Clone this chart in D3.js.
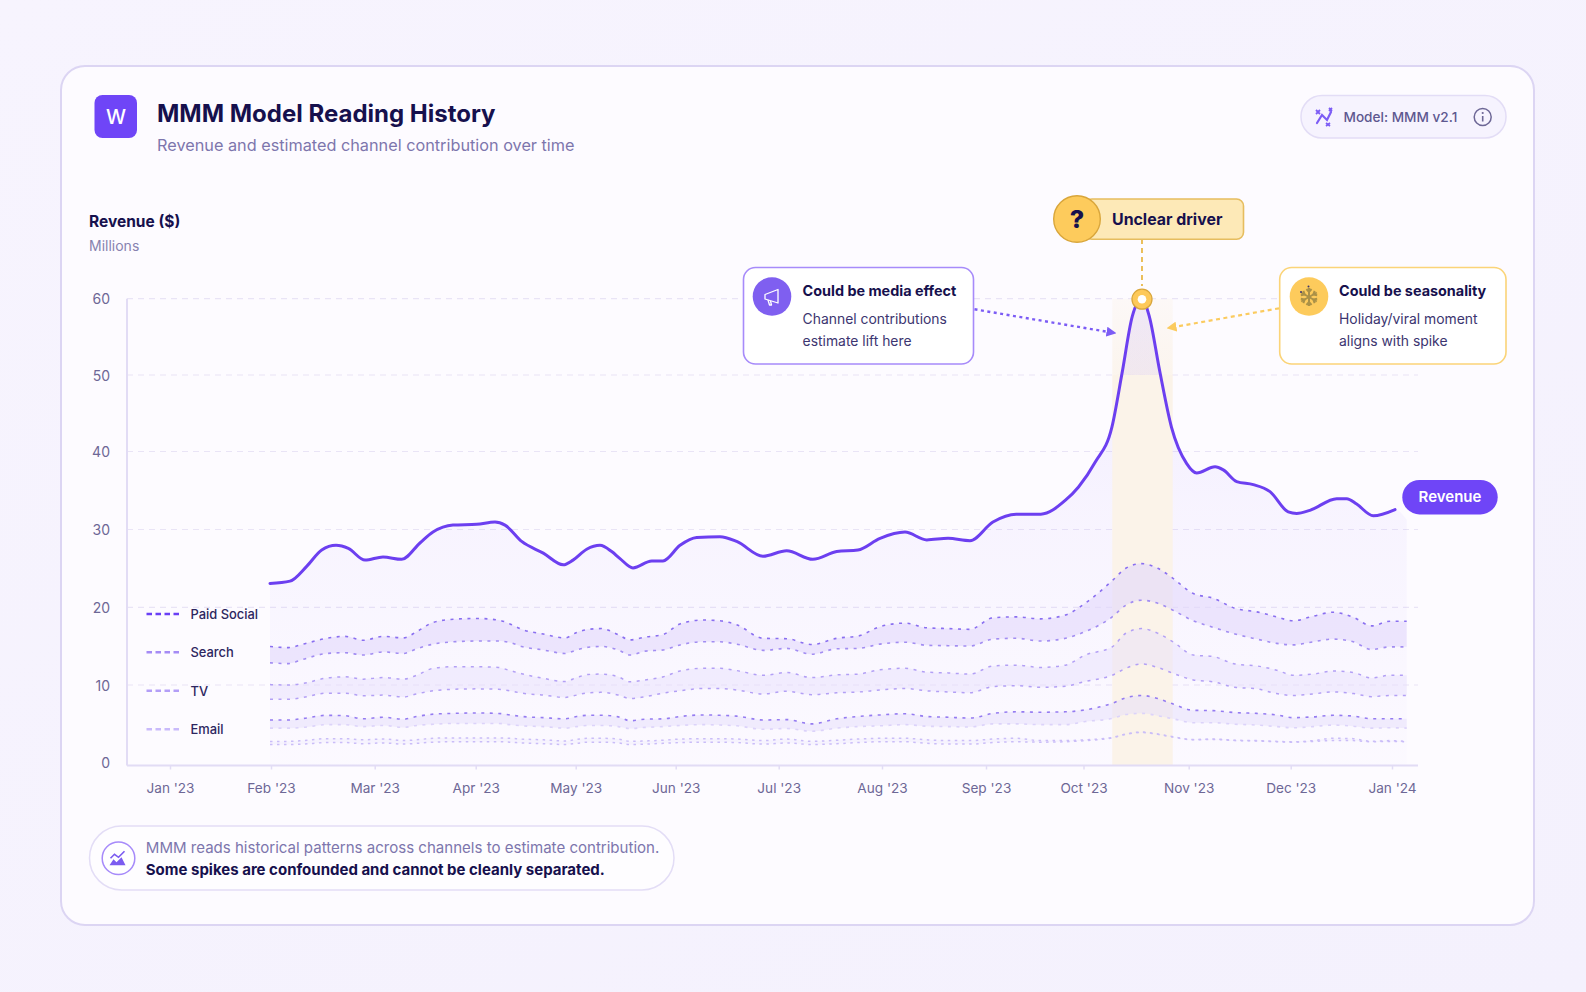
<!DOCTYPE html>
<html><head><meta charset="utf-8">
<script src="https://cdn.jsdelivr.net/npm/d3@7"></script>
<style>
html,body{margin:0;padding:0;background:#f6f3fe;overflow:hidden}
svg{display:block}
text{font-family:Inter,"Noto Sans",sans-serif}
</style></head><body>
<script>
const monthLabels=["Jan '23","Feb '23","Mar '23","Apr '23","May '23","Jun '23","Jul '23","Aug '23","Sep '23","Oct '23","Nov '23","Dec '23","Jan '24"];
const monthIndex=[0,1,2,3,4,5,6,7,8,9,10,11,12];
const yTicks=[0,10,20,30,40,50,60];
const revMonths=[0.99,1.183,1.344,1.489,1.627,1.746,1.907,2.082,2.267,2.448,2.577,2.775,3.01,3.193,3.293,3.46,3.676,3.876,3.973,4.11,4.243,4.36,4.443,4.573,4.76,4.873,5.042,5.204,5.43,5.592,5.847,6.077,6.33,6.562,6.767,6.981,7.221,7.43,7.635,7.846,8.071,8.31,8.562,8.815,8.949,9.112,9.27,9.366,9.463,9.556,9.626,9.723,9.836,9.981,10.078,10.258,10.339,10.47,10.633,10.797,10.976,11.059,11.19,11.454,11.553,11.651,11.815,12.03];
const revenue=[23.4,23.7,25.6,27.7,28.3,27.9,26.4,26.8,26.5,28.6,30,30.9,31,31.3,30.9,28.8,27.3,25.8,26.4,27.8,28.3,27.5,26.6,25.4,26.3,26.3,28.3,29.3,29.4,28.8,26.9,27.6,26.5,27.5,27.7,29.2,30,29,29.2,28.9,31.3,32.3,32.3,34.1,35.8,39,43.5,50.4,57.7,60,57.7,50.8,43.5,38.8,37.6,38.4,38,36.5,36.1,35.2,32.6,32.4,32.8,34.3,34.3,33.6,32.1,32.9];
const bandMonths=[0.99,1.167,1.311,1.537,1.713,1.889,2.085,2.283,2.416,2.58,2.778,3.01,3.226,3.343,3.46,3.676,3.893,4.01,4.126,4.26,4.426,4.543,4.693,4.876,5.042,5.268,5.43,5.592,5.85,6.077,6.32,6.562,6.771,6.981,7.221,7.43,7.638,7.846,8.074,8.31,8.562,8.815,9.016,9.273,9.402,9.552,9.706,9.851,10.045,10.241,10.454,10.667,10.863,11.026,11.223,11.42,11.618,11.799,11.98,12.145];
const paidSocialTop=[15.3,15.15,15.6,16.35,16.6,16.1,16.6,16.4,17.2,18.4,18.8,18.9,18.7,18.2,17.5,16.9,16.4,17.1,17.5,17.6,16.8,16.15,16.5,16.85,18.2,18.7,18.6,18.1,16.35,16.3,15.55,16.35,16.65,17.85,18.3,17.7,17.6,17.5,19,19.1,18.85,19.35,20.85,23.75,25.35,25.95,25.35,24.05,22.1,21.5,20.2,19.75,19.1,18.6,19.2,19.7,19.05,17.95,18.55,18.55];
const paidSocialBottom=[13.2,13.1,13.65,14.4,14.5,14.2,14.6,14.4,15,15.6,15.9,16,16,15.8,15.3,14.85,14.4,14.85,15.2,15.3,14.85,14.2,14.7,14.85,15.5,15.9,15.9,15.6,14.8,15.05,14.3,15,15.05,15.6,15.85,15.45,15.4,15.35,16.25,16.35,16,16.35,17.2,19.1,20.6,21.25,20.85,19.95,18.6,17.75,16.9,16.25,15.7,15.5,15.9,16.25,15.9,14.9,15.25,15.25];
const searchTop=[10.4,10.35,10.55,11.25,11.4,11.1,11.3,11.1,11.6,12.5,12.7,12.7,12.6,12.2,11.8,11.2,10.8,11.3,11.7,11.75,11.4,10.75,11,11.4,12.15,12.5,12.5,12.2,11.6,11.95,11.3,11.65,11.75,12.3,12.5,12,11.9,11.75,12.8,12.9,12.6,12.9,14.2,15.25,17,17.6,17,15.9,14.2,14,13.05,12.8,12.25,11.6,11.75,12.15,11.95,11.25,11.6,11.6];
const searchBottom=[8.5,8.5,8.75,9.3,9.3,8.95,9.05,8.8,9.2,9.6,9.8,9.85,9.8,9.6,9.3,9.05,8.75,9.05,9.35,9.4,9.05,8.6,8.85,9.3,9.6,9.9,9.9,9.7,9.2,9.55,9.1,9.35,9.45,9.7,9.9,9.6,9.45,9.35,10.15,10.25,10.05,10.2,10.8,11.6,12.5,13.05,12.6,11.85,11,10.75,10.05,9.85,9.25,9,9.2,9.45,9.25,8.85,9,9];
const tvTop=[5.85,5.85,6.05,6.45,6.4,6,6.2,5.95,6.3,6.6,6.7,6.75,6.7,6.5,6.3,6.15,6,6.3,6.45,6.45,6.25,5.75,5.95,6,6.3,6.5,6.45,6.35,5.85,5.9,5.35,6,6.3,6.5,6.65,6.3,6.2,6.1,6.7,6.9,6.85,6.9,7.15,8,8.7,9,8.6,7.9,7.1,7.05,6.8,6.7,6.5,6.15,6.25,6.45,6.35,6,6,6];
const tvBottom=[4.8,4.8,4.9,5.25,5.25,5,5.15,4.9,5.15,5.3,5.4,5.4,5.4,5.25,5.1,5,4.8,5,5.15,5.15,5,4.75,4.9,5,5.15,5.25,5.2,5.1,4.65,4.75,4.4,4.8,5,5.1,5.25,5.05,5,4.95,5.35,5.35,5.25,5.25,5.65,6.05,6.55,6.7,6.4,6,5.5,5.5,5.3,5.2,5,4.85,5,5.2,5.05,4.8,4.85,4.8];
const emailTop=[3.1,3.1,3.2,3.45,3.45,3.3,3.4,3.2,3.3,3.5,3.55,3.55,3.55,3.5,3.4,3.3,3.15,3.35,3.5,3.5,3.4,3.1,3.15,3.25,3.4,3.45,3.45,3.4,3.2,3.4,3.1,3.25,3.4,3.5,3.5,3.3,3.2,3.2,3.4,3.5,3.2,3.2,3.3,3.6,4.05,4.3,4.05,3.7,3.35,3.4,3.25,3.2,3.1,3.05,3.2,3.5,3.45,3.1,3.2,3.1];
const emailBottom=[2.7,2.7,2.75,2.95,2.95,2.8,2.9,2.75,2.85,3,3.05,3.05,3.05,3,2.9,2.8,2.7,2.85,3,3,2.9,2.7,2.75,2.85,2.95,3,3,2.95,2.75,2.9,2.7,2.8,2.95,3.05,3.05,2.85,2.75,2.75,2.95,3.05,3,3.05,3.2,3.55,4,4.25,4,3.65,3.3,3.35,3.2,3.15,3.05,3,3.1,3.2,3.2,3.05,3.1,3.05];
const legendNames=["Paid Social","Search","TV","Email"];
const legendColors=["#6a3ff5","#a58bf5","#b39ef7","#c9bafb"];

const W=1586,H=992;
const tickPx=[170,271,374.7,475.7,575.7,675.7,778.7,882,986,1083.5,1188.7,1290.7,1392];
const x=d3.scaleLinear().domain(monthIndex).range(tickPx);
const y=d3.scaleLinear().domain([0,60]).range([765.5,298.7]);
const yGrid=d3.scaleLinear().domain(yTicks).range([762.7,685,607.3,529.5,451.5,375,298.7]);
const curve=d3.curveMonotoneX;
const svg=d3.select("body").append("svg").attr("width",W).attr("height",H).attr("viewBox",`0 0 ${W} ${H}`);
const defs=svg.append("defs");
const pg=defs.append("linearGradient").attr("id","pageBg").attr("x1",0).attr("y1",0).attr("x2",1).attr("y2",1);
pg.append("stop").attr("offset",0).attr("stop-color","#f7f4fe");
pg.append("stop").attr("offset",1).attr("stop-color","#f4f1fd");
const ag=defs.append("linearGradient").attr("id","revFill").attr("gradientUnits","userSpaceOnUse").attr("x1",0).attr("x2",0).attr("y1",298).attr("y2",766);
ag.append("stop").attr("offset",0).attr("stop-color","#6f45f7").attr("stop-opacity",.09);
ag.append("stop").attr("offset",.45).attr("stop-color","#6f45f7").attr("stop-opacity",.04);
ag.append("stop").attr("offset",1).attr("stop-color","#6f45f7").attr("stop-opacity",.01);
const hg=defs.append("linearGradient").attr("id","hiTop").attr("x1",0).attr("x2",0).attr("y1",0).attr("y2",1);
hg.append("stop").attr("offset",0).attr("stop-color","#fbf3e9").attr("stop-opacity",.35);
hg.append("stop").attr("offset",1).attr("stop-color","#fbf3e9").attr("stop-opacity",.8);
function mk(id,c){defs.append("marker").attr("id",id).attr("viewBox","0 0 10 10").attr("refX",8).attr("refY",5).attr("markerWidth",10).attr("markerHeight",10).attr("markerUnits","userSpaceOnUse").attr("orient","auto").append("path").attr("d","M0,0L10,5L0,10Z").attr("fill",c);}
mk("arP","#7c5cf5");mk("arY","#fbcb5f");

svg.append("rect").attr("width",W).attr("height",H).attr("fill","url(#pageBg)");
svg.append("rect").attr("x",61).attr("y",66).attr("width",1473).attr("height",859).attr("rx",24)
  .attr("fill","#fdfbff").attr("stroke","#dcd5f3").attr("stroke-width",2);

// header
svg.append("rect").attr("x",94.5).attr("y",95).attr("width",42.5).attr("height",43).attr("rx",8).attr("fill","#6f45f7");
svg.append("text").attr("x",116).attr("y",124).attr("text-anchor","middle").attr("fill","#fff").attr("font-size",20).attr("font-weight",500).text("W");
svg.append("text").attr("x",157).attr("y",122).attr("fill","#16104d").attr("font-size",24).attr("font-weight",700).text("MMM Model Reading History");
svg.append("text").attr("x",157).attr("y",151).attr("fill","#7d76ad").attr("font-size",16.25).text("Revenue and estimated channel contribution over time");
svg.append("text").attr("x",89).attr("y",227).attr("fill","#16104d").attr("font-size",15.5).attr("font-weight",700).text("Revenue ($)");
svg.append("text").attr("x",89).attr("y",251).attr("fill","#8782b0").attr("font-size",14).text("Millions");

// model pill
svg.append("rect").attr("x",1301).attr("y",95.5).attr("width",205).attr("height",42.5).attr("rx",21).attr("fill","#f6f3fe").attr("stroke","#e3ddf6").attr("stroke-width",1.5);
const wand=svg.append("g").attr("transform","translate(1324,117)").attr("fill","none").attr("stroke","#7c5cf5").attr("stroke-width",2.2);
wand.append("path").attr("d","M-7,6L-2,-2L3,3L7,-5").attr("stroke-linecap","round");
wand.append("path").attr("d","M-8,-7L-4,-3M-4,-7L-8,-3M5,-9L8,-6M8,-9L5,-6M2,6L6,9M6,6L2,9").attr("stroke-width",1.8);
svg.append("text").attr("x",1343.5).attr("y",122).attr("fill","#5e5890").attr("font-size",13.6).attr("font-weight",500).text("Model: MMM v2.1");
const info=svg.append("g").attr("transform","translate(1482.7,117)");
info.append("circle").attr("r",8.5).attr("fill","none").attr("stroke","#6d6796").attr("stroke-width",1.5);
info.append("path").attr("d","M0,-1V4.5").attr("stroke","#6d6796").attr("stroke-width",1.6);
info.append("circle").attr("cy",-4).attr("r",1.1).attr("fill","#6d6796");

// grid + axes
svg.append("g").selectAll("line").data(yTicks.filter(d=>d>0)).join("line")
  .attr("x1",127).attr("x2",1418).attr("y1",d=>yGrid(d)).attr("y2",d=>yGrid(d))
  .attr("stroke","#e9e4f6").attr("stroke-width",1.2).attr("stroke-dasharray","6 5");

const rx0=1112.3,rw=60.4;
svg.append("rect").attr("x",rx0).attr("y",yGrid(60)).attr("width",rw).attr("height",yGrid(50)-yGrid(60)).attr("fill","url(#hiTop)");
const revArea=d3.area().curve(curve).x(d=>x(d[0])).y0(y(0)).y1(d=>y(d[1]));
const revPts=revMonths.map((m,i)=>[m,revenue[i]]);
svg.append("path").datum(revPts.concat([[12.145,31.6]])).attr("d",revArea).attr("fill","url(#revFill)");
svg.append("rect").attr("x",rx0).attr("y",yGrid(50)).attr("width",rw).attr("height",y(0)-yGrid(50)).attr("fill","#fbf3e9");

const axisY=d3.axisLeft(yGrid).tickValues(yTicks).tickSize(0).tickPadding(17);
const gy=svg.append("g").attr("transform","translate(127,0)").call(axisY);
gy.select(".domain").attr("d","M0,298.7V765.5").attr("stroke","#e2dcf5").attr("stroke-width",2);
gy.selectAll("text").attr("fill","#6d6796").attr("font-size",14).attr("font-family","Inter").attr("dy","0.36em");
const axisX=d3.axisBottom(x).tickValues(monthIndex).tickFormat(i=>monthLabels[i]).tickSizeOuter(0).tickSize(4).tickPadding(13.5);
const gx=svg.append("g").attr("transform",`translate(0,${y(0)})`).call(axisX);
gx.select(".domain").attr("d","M127,0H1418").attr("stroke","#e2dcf5").attr("stroke-width",2);
gx.selectAll("line").attr("stroke","#e2dcf5").attr("stroke-width",1.5);
gx.selectAll("text").attr("fill","#6d6796").attr("font-size",13.6).attr("font-family","Inter");

// bands
const bands=[
 {top:paidSocialTop,bot:paidSocialBottom,fill:"#e2d9fb",fo:.6,tc:"#8a6ff0",bc:"#a28df2",w:1.6,dash:"3 5.5"},
 {top:searchTop,bot:searchBottom,fill:"#e7e0fc",fo:.48,tc:"#b3a0f5",bc:"#b3a0f5",w:1.5,dash:"3 5.5"},
 {top:tvTop,bot:tvBottom,fill:"#e6defc",fo:.5,tc:"#957cf1",bc:"#dcd3fa",w:1.6,dash:"3 5.5"},
 {top:emailTop,bot:emailBottom,fill:"#e9e2fc",fo:.25,tc:"#cabdf8",bc:"#cabdf8",w:1.5,dash:"2.5 4.5"}
];
const bArea=d3.area().curve(curve).x((d,i)=>x(bandMonths[i])).y0(d=>y(d[1])).y1(d=>y(d[0]));
const bLine=d3.line().curve(curve).x((d,i)=>x(bandMonths[i])).y(d=>y(d));
bands.forEach(b=>{
  svg.append("path").datum(b.top.map((v,i)=>[v,b.bot[i]])).attr("d",bArea).attr("fill",b.fill).attr("fill-opacity",b.fo);
  svg.append("path").datum(b.top).attr("d",bLine).attr("fill","none").attr("stroke",b.tc).attr("stroke-width",b.w).attr("stroke-dasharray",b.dash);
  svg.append("path").datum(b.bot).attr("d",bLine).attr("fill","none").attr("stroke",b.bc).attr("stroke-width",b.w).attr("stroke-dasharray",b.dash);
});

// revenue
const revLine=d3.line().curve(curve).x(d=>x(d[0])).y(d=>y(d[1]));
svg.append("path").datum(revPts).attr("d",revLine).attr("fill","none").attr("stroke","#6c3ff0").attr("stroke-width",3).attr("stroke-linecap","round");

// legend
const legY=[614,652.3,690.7,729.3];
const leg=svg.append("g").selectAll("g").data(legendNames).join("g").attr("transform",(d,i)=>`translate(0,${legY[i]})`);
leg.append("line").attr("x1",146.5).attr("x2",179).attr("stroke",(d,i)=>legendColors[i]).attr("stroke-width",2.4).attr("stroke-dasharray","5.5 3.5");
leg.append("text").attr("x",190.5).attr("y",5).attr("fill","#2d2660").attr("font-size",12.9).attr("font-weight",500).text(d=>d);

// revenue pill
svg.append("rect").attr("x",1402.3).attr("y",480).attr("width",95.4).attr("height",34.4).attr("rx",17.2).attr("fill","#6f45f7");
svg.append("text").attr("x",1450).attr("y",502.3).attr("text-anchor","middle").attr("fill","#fff").attr("font-size",15).attr("font-weight",600).text("Revenue");

// connector and peak marker
const peakX=x(revMonths[revenue.indexOf(60)]), peakY=y(60);
svg.append("line").attr("x1",peakX).attr("x2",peakX).attr("y1",239).attr("y2",286).attr("stroke","#e9b84a").attr("stroke-width",1.8).attr("stroke-dasharray","5 4");
svg.append("circle").attr("cx",peakX).attr("cy",peakY+.5).attr("r",10).attr("fill","#fdc95a").attr("stroke","#d9a63b").attr("stroke-width",1.3);
svg.append("circle").attr("cx",peakX).attr("cy",peakY+.5).attr("r",4.3).attr("fill","#fff");

// unclear driver
svg.append("rect").attr("x",1085).attr("y",199).attr("width",158.5).attr("height",40.3).attr("rx",7).attr("fill","#fde9b7").attr("stroke","#e6bd5f").attr("stroke-width",1.6);
svg.append("circle").attr("cx",1077).attr("cy",219).attr("r",23.3).attr("fill","#fdcb5c").attr("stroke","#d9a63b").attr("stroke-width",1.4);
svg.append("text").attr("x",1077).attr("y",228).attr("text-anchor","middle").attr("fill","#16104d").attr("font-size",25).attr("font-weight",800).text("?");
svg.append("text").attr("x",1112).attr("y",224.5).attr("fill","#16104d").attr("font-size",15.9).attr("font-weight",700).text("Unclear driver");

// callouts
function callout(x0,w,stroke,circ,cx,tx,head,l1,l2){
  svg.append("rect").attr("x",x0).attr("y",267.5).attr("width",w).attr("height",96.5).attr("rx",12).attr("fill","#fff").attr("stroke",stroke).attr("stroke-width",1.6);
  svg.append("circle").attr("cx",cx).attr("cy",296.5).attr("r",19.3).attr("fill",circ);
  svg.append("text").attr("x",tx).attr("y",296).attr("fill","#16104d").attr("font-size",14.4).attr("font-weight",700).text(head);
  svg.append("text").attr("x",tx).attr("y",324).attr("fill","#3c3570").attr("font-size",13.9).text(l1);
  svg.append("text").attr("x",tx).attr("y",346).attr("fill","#3c3570").attr("font-size",13.9).text(l2);
}
callout(743.5,230,"#a78bfa","#7f5ff0",772,802.6,"Could be media effect","Channel contributions","estimate lift here");
callout(1279.7,226.3,"#fbd478","#fdcb5c",1309,1339,"Could be seasonality","Holiday/viral moment","aligns with spike");
svg.append("line").attr("x1",974.5).attr("y1",309.3).attr("x2",1114.5).attr("y2",333).attr("stroke","#7c5cf5").attr("stroke-width",2.4).attr("stroke-dasharray","3 3.5").attr("marker-end","url(#arP)");
svg.append("line").attr("x1",1279).attr("y1",308.3).attr("x2",1168.5).attr("y2",328).attr("stroke","#fbcb5f").attr("stroke-width",2.2).attr("stroke-dasharray","4 3.5").attr("marker-end","url(#arY)");

// icons
const mega=svg.append("g").attr("transform","translate(772,297)").attr("fill","none").attr("stroke","#fff").attr("stroke-width",1.3).attr("stroke-linejoin","round");
mega.append("path").attr("d","M-7,-2.5L6,-7.5V6L-7,2Z");
mega.append("path").attr("d","M-4,3L-2.5,8H-0.5L-1.5,4");
const snow=svg.append("g").attr("transform","translate(1309,297)").attr("stroke","#ab9147").attr("stroke-width",2).attr("fill","none");
[0,60,120].forEach(a=>{snow.append("line").attr("x1",0).attr("x2",0).attr("y1",-9).attr("y2",9).attr("transform",`rotate(${a})`);
  snow.append("path").attr("d","M-2.5,-8L0,-5L2.5,-8M-2.5,8L0,5L2.5,8").attr("transform",`rotate(${a})`);});
svg.append("circle").attr("cx",1308.5).attr("cy",286.5).attr("r",1).attr("fill","#3c3570");
svg.append("circle").attr("cx",1301).attr("cy",292).attr("r",1).attr("fill","#3c3570");

// footer
svg.append("rect").attr("x",89.5).attr("y",826).attr("width",584.5).attr("height",64).attr("rx",32).attr("fill","#fefdff").attr("stroke","#e3ddf6").attr("stroke-width",1.5);
svg.append("circle").attr("cx",118.5).attr("cy",858.3).attr("r",16.3).attr("fill","#fff").attr("stroke","#a78bfa").attr("stroke-width",1.5);
const fi=svg.append("g").attr("transform","translate(118.5,858.3)");
fi.append("path").attr("d","M-9,7L-5,1L-2,4L3,-1L7,7Z").attr("fill","#7c5cf0");
fi.append("path").attr("d","M-8,0L-4,-4L0,-1L6,-7").attr("fill","none").attr("stroke","#7c5cf0").attr("stroke-width",1.6);
svg.append("text").attr("x",145.8).attr("y",853).attr("fill","#7d76ad").attr("font-size",15.05).text("MMM reads historical patterns across channels to estimate contribution.");
svg.append("text").attr("x",145.8).attr("y",874.5).attr("fill","#16104d").attr("font-size",15).attr("font-weight",700).text("Some spikes are confounded and cannot be cleanly separated.");
</script>
</body></html>
